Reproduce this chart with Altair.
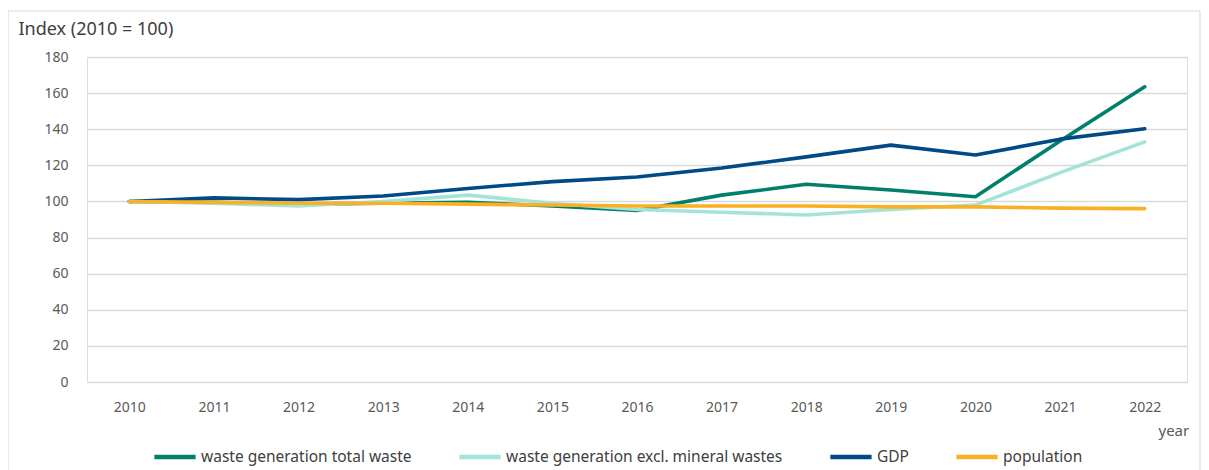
import altair as alt
import pandas as pd

years = [str(y) for y in range(2010, 2023)]
total_waste = [100, 99.5, 98.5, 99, 99.5, 97.5, 95, 103.5, 109.5, 106.3, 102.6, 133.5, 163.5]
excl_mineral = [100, 99, 97.5, 100, 103.5, 99, 95.5, 94, 92.5, 95.5, 98, 116, 133]
gdp = [100, 102, 101, 103, 107.2, 111, 113.5, 118.5, 124.7, 131.2, 125.7, 134.5, 140.3]
population = [100, 99.5, 99, 99, 98.5, 98, 97.5, 97.5, 97.5, 97, 97, 96.3, 96]

series_names = ["waste generation total waste", "waste generation excl. mineral wastes", "GDP", "population"]
series_values = [total_waste, excl_mineral, gdp, population]
colors = ["#00806A", "#A5E3D8", "#004B87", "#FBB023"]

rows = []
for name, vals in zip(series_names, series_values):
    for i, (y, v) in enumerate(zip(years, vals)):
        rows.append({"year": y, "value": v, "series": name, "order": series_names.index(name)})
df = pd.DataFrame(rows)

FONT = "Noto Sans"

lines = alt.Chart(df).mark_line(strokeWidth=3.6, strokeCap="round", strokeJoin="round").encode(
    x=alt.X("year:O", sort=years, scale=alt.Scale(type="point", padding=0.5),
            axis=alt.Axis(title="year", labelAngle=0, labelPadding=18, labelFontSize=14,
                          labelColor="#595959", labelFont=FONT, ticks=False, domain=False,
                          titleFont=FONT, titleFontSize=15, titleFontWeight="normal", titleColor="#595959",
                          titleAnchor="start", titleAlign="left", titleBaseline="middle",
                          titleX=1071, titleY=48)),
    y=alt.Y("value:Q", scale=alt.Scale(domain=[0, 180], nice=False),
            axis=alt.Axis(title="Index (2010 = 100)", values=list(range(0, 181, 20)), ticks=False,
                          domain=False, labelFontSize=14, labelColor="#595959", labelFont=FONT,
                          labelPadding=19, gridColor="#d9d9d9", gridWidth=1.3,
                          titleFont=FONT, titleFontSize=18, titleFontWeight="normal", titleColor="#404040",
                          titleAngle=0, titleAlign="left", titleBaseline="middle",
                          titleX=-69, titleY=-28)),
    color=alt.Color("series:N", sort=series_names,
                    scale=alt.Scale(domain=series_names, range=colors),
                    legend=alt.Legend(title=None, orient="none", legendX=65, legendY=377,
                                      direction="horizontal", symbolType="stroke",
                                      symbolSize=1700, symbolStrokeWidth=4.5,
                                      labelFont=FONT, labelFontSize=15.5, labelColor="#404040",
                                      labelLimit=400, columnPadding=38, labelOffset=3, padding=0,
                                      offset=0)),
    order=alt.Order("order:Q"),
)

frame_df = pd.DataFrame({"k": [0]})
frame = alt.Chart(frame_df).mark_rect(filled=False, stroke="#d9d9d9", strokeWidth=1).encode(
    x=alt.value(-79), x2=alt.value(1113), y=alt.value(-46), y2=alt.value(430)
)

chart = alt.layer(frame, lines).properties(
    width=1100, height=325,
    autosize=alt.AutoSizeParams(type="none"),
    padding={"left": 79, "top": 49, "right": 14, "bottom": 90},
).configure_view(stroke=None).configure(background="white")

chart.save("out.html", embed_options={"renderer": "svg", "actions": False})
